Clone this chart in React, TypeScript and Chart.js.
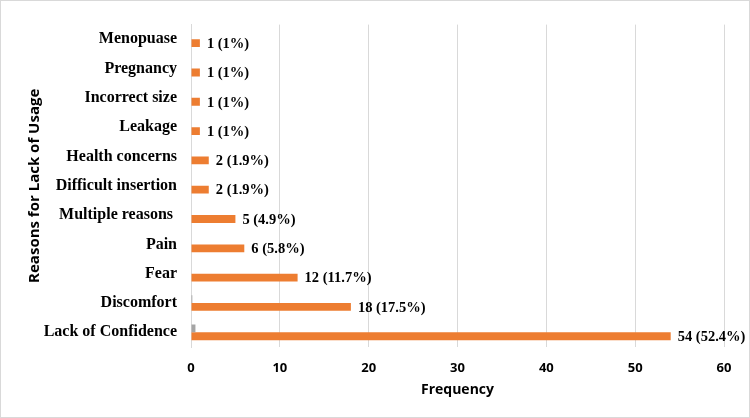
import { useEffect, useRef } from "react";
import { Chart, registerables } from "chart.js";

Chart.register(...registerables);

// Reasons listed top to bottom
const reasons = [
  "Menopuase",
  "Pregnancy",
  "Incorrect size",
  "Leakage",
  "Health concerns",
  "Difficult insertion",
  "Multiple reasons ",
  "Pain",
  "Fear",
  "Discomfort",
  "Lack of Confidence",
];

const counts = [1, 1, 1, 1, 2, 2, 5, 6, 12, 18, 54];
const shares = ["1%", "1%", "1%", "1%", "1.9%", "1.9%", "4.9%", "5.8%", "11.7%", "17.5%", "52.4%"];
const secondary = [0, 0, 0, 0, 0, 0, 0, 0, 0, 0.15, 0.5];

const xMin = 0;
const xMax = 60;
const xStep = 10;

const ORANGE = "#ed7d31";
const GREY = "#a5a5a5";
const GRID = "#d9d9d9";
const SERIF = '"Liberation Serif", "Times New Roman", serif';
const SANS = '"Open Sans", "Liberation Sans", sans-serif';

const valueLabels = {
  id: "valueLabels",
  afterDatasetsDraw(chart: any) {
    const meta = chart.getDatasetMeta(1);
    const ctx = chart.ctx;
    ctx.save();
    ctx.font = `bold 14.5px ${SERIF}`;
    ctx.fillStyle = "#000";
    ctx.textAlign = "left";
    ctx.textBaseline = "middle";
    meta.data.forEach((bar: any, i: number) => {
      ctx.fillText(`${counts[i]} (${shares[i]})`, bar.x + 7, bar.y + 1);
    });
    ctx.restore();
  },
};

export default function App() {
  const canvasRef = useRef<HTMLCanvasElement | null>(null);

  useEffect(() => {
    if (!canvasRef.current) return;
    const chart = new Chart(canvasRef.current, {
      type: "bar",
      data: {
        labels: reasons,
        datasets: [
          {
            label: "Other",
            data: secondary,
            backgroundColor: GREY,
            barPercentage: 1,
            categoryPercentage: 16 / 30,
          },
          {
            label: "Frequency",
            data: counts,
            backgroundColor: ORANGE,
            barPercentage: 1,
            categoryPercentage: 16 / 30,
          },
        ],
      },
      options: {
        indexAxis: "y",
        responsive: false,
        animation: false,
        devicePixelRatio: 1,
        layout: { padding: { top: 16, right: 25, left: 0, bottom: 0 } },
        plugins: {
          legend: { display: false },
          tooltip: { enabled: false },
        },
        scales: {
          x: {
            min: xMin,
            max: xMax,
            ticks: {
              stepSize: xStep,
              color: "#000",
              padding: 13,
              font: { family: SANS, size: 13, weight: "bold" },
            },
            grid: { color: GRID, drawTicks: false },
            border: { display: false },
            title: {
              display: true,
              text: "Frequency",
              color: "#000",
              font: { family: SANS, size: 14, weight: "bold" },
              padding: { top: 0, bottom: 19 },
            },
            afterFit(scale: any) {
              scale.height = 70;
            },
          },
          y: {
            ticks: {
              color: "#000",
              padding: 14,
              autoSkip: false,
              font: { family: SERIF, size: 16, weight: "bold" },
            },
            grid: { display: false, drawTicks: false },
            border: { display: true, color: GRID },
            title: {
              display: true,
              text: "Reasons for Lack of Usage",
              color: "#000",
              font: { family: SANS, size: 15, weight: "bold" },
              padding: { top: 25, bottom: 0 },
            },
            afterFit(scale: any) {
              scale.width = 190;
            },
          },
        },
      },
      plugins: [valueLabels],
    });
    return () => chart.destroy();
  }, []);

  return (
    <div
      style={{
        position: "fixed",
        left: 0,
        top: 0,
        width: 750,
        height: 418,
        boxSizing: "border-box",
        border: `1px solid ${GRID}`,
        background: "#fff",
      }}
    >
      <canvas ref={canvasRef} width={748} height={416} style={{ display: "block" }} />
    </div>
  );
}
